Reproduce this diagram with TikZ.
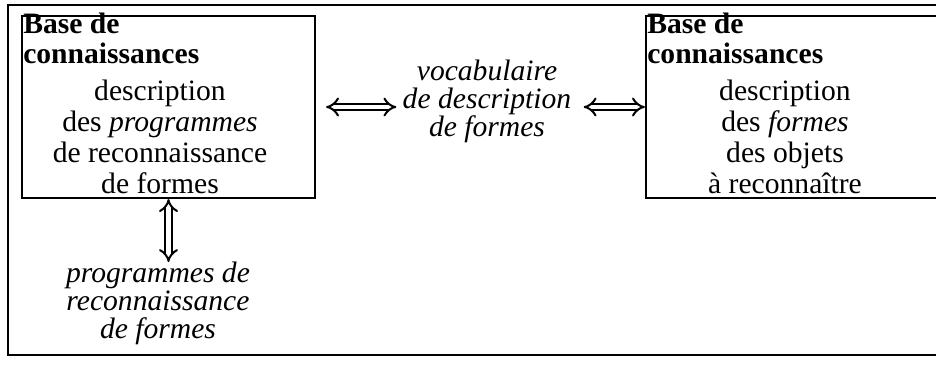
\documentclass[tikz,border=0pt]{standalone}
\usepackage{fontspec}
\setmainfont{Liberation Serif}
\usetikzlibrary{arrows.meta,positioning}

\tikzset{
  kbox/.style={draw,line width=1.1pt,minimum height=91pt,inner sep=0pt},
  kbtitle/.style={anchor=north west,inner sep=0pt,align=left,font=\bfseries\fontsize{14.8}{15}\selectfont},
  kbtext/.style={anchor=north,inner sep=0pt,align=center,font=\fontsize{14.8}{15.5}\selectfont},
  itext/.style={inner sep=3pt,align=center,font=\itshape\fontsize{14.8}{14}\selectfont},
  biarrow/.style={double,double distance=2.2pt,line width=1pt,{Implies}-{Implies}}
}

\begin{document}
\begin{tikzpicture}[x=0.5pt,y=-0.5pt]
  \useasboundingbox (0,0) rectangle (936,365);
  % cadre
  \draw[line width=1.1pt] (940,5) -| (8,355) -- (940,355);
  % bases de connaissances
  \node[kbox,minimum width=146.5pt](kbprog)at(168.5,107){};
  \node[kbox,minimum width=152pt](kbform)at(798,107){};
  \node[kbtitle](tprog)at([xshift=1pt,yshift=1pt]kbprog.north west){Base de\\connaissances};
  \node[kbtitle](tform)at([xshift=1pt,yshift=1pt]kbform.north west){Base de\\connaissances};
  \node[kbtext](dprog)at(160,80){description\\des \emph{programmes}\\de reconnaissance\\de formes};
  \node[kbtext](dform)at(785,80){description\\des \emph{formes}\\des objets\\à reconnaître};
  % vocabulaire
  \node[itext,anchor=north](vocab)at(487,54){vocabulaire\\de description\\de formes};
  \node[itext,anchor=north,inner sep=0pt](prog)at(158,262){programmes de\\reconnaissance\\de formes};
  \draw[biarrow,shorten <=5pt](kbprog.east)--(kbprog.east -| vocab.west);
  \draw[biarrow,shorten <=3pt](kbform.west -| vocab.east)--(kbform.west);
  \draw[biarrow](kbprog.south)--(kbprog.south |- prog.north);
\end{tikzpicture}
\end{document}
